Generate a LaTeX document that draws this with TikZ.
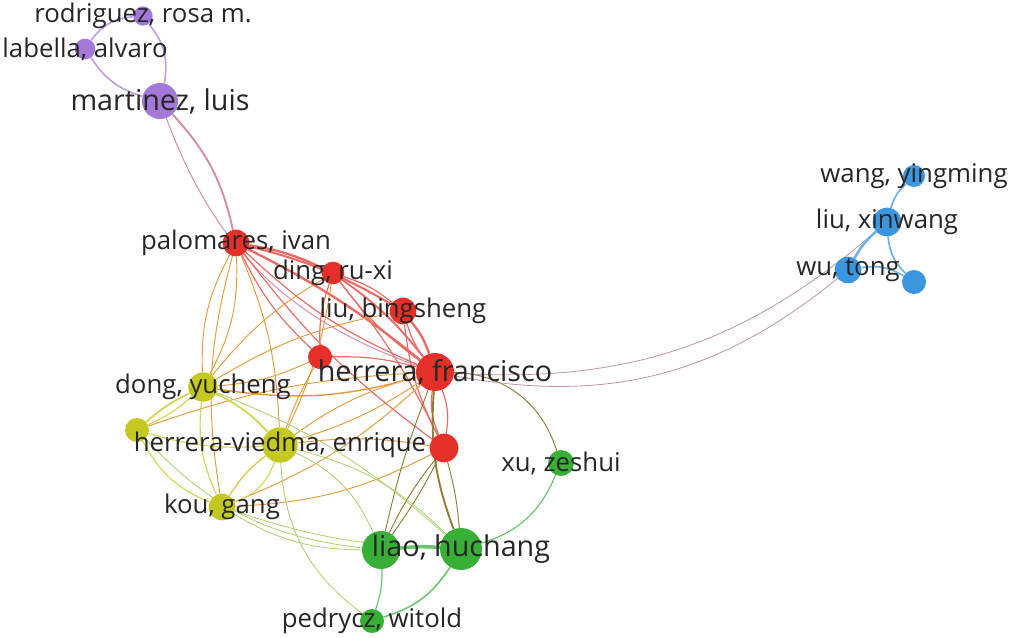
\documentclass[tikz,border=0pt]{standalone}
\usepackage{fontspec}
\setmainfont{Open Sans}
\usetikzlibrary{backgrounds}
\definecolor{vred}{RGB}{228,48,40}
\definecolor{vpur}{RGB}{164,120,214}
\definecolor{vyel}{RGB}{196,200,32}
\definecolor{vgrn}{RGB}{56,176,56}
\definecolor{vblu}{RGB}{60,150,222}
\begin{document}
\begin{tikzpicture}
  [x=0.03cm,y=-0.03cm,
   vn/.style={circle,inner sep=0pt},
   lbl/.style={font=\fontsize{22}{24}\selectfont,text=black!85},
   big/.style={font=\fontsize{24.5}{26}\selectfont,text=black!85},
   pe/.style={draw=vpur!70,line width=1.4pt},
   rp/.style={draw=vred!45!vpur!70,line width=0.8pt},
   re/.style={draw=vred!72,line width=1pt},
   ry/.style={draw=vred!40!vyel!70!orange!85,line width=0.8pt},
   rg/.style={draw=vred!40!vgrn!75!brown,line width=0.8pt},
   ye/.style={draw=vyel!75,line width=1pt},
   yg/.style={draw=vyel!55!vgrn!70,line width=0.7pt},
   ge/.style={draw=vgrn!75,line width=1pt},
   be/.style={draw=vblu!75,line width=1.4pt},
   rb/.style={draw=vred!55!vblu!65,line width=0.7pt}]
  \useasboundingbox (0,0) rectangle (1009,637);

  % purple
  \node[vn,fill=vpur,minimum size=0.58cm,label={[lbl]center:rodriguez, rosa m.}] (rodr) at (143,16) {};
  \node[vn,fill=vpur,minimum size=0.62cm,label={[lbl]center:labella, alvaro}] (labe) at (85,49) {};
  \node[vn,fill=vpur,minimum size=1.08cm,label={[big]center:martinez, luis}] (mart) at (160,101) {};

  % red
  \node[vn,fill=vred,minimum size=0.8cm,label={[lbl]center:palomares, ivan}] (palo) at (236,243) {};
  \node[vn,fill=vred,minimum size=0.68cm,label={[lbl]center:ding, ru-xi}] (ding) at (333,273) {};
  \node[vn,fill=vred,minimum size=0.8cm,label={[lbl]center:liu, bingsheng}] (libi) at (403,311) {};
  \node[vn,fill=vred,minimum size=0.72cm] (sred) at (320,357) {};
  \node[vn,fill=vred,minimum size=1.14cm,label={[big]center:herrera, francisco}] (herr) at (435,372) {};
  \node[vn,fill=vred,minimum size=0.86cm] (rbel) at (444,448) {};

  % yellow
  \node[vn,fill=vyel,minimum size=0.88cm,label={[lbl]center:dong, yucheng}] (dong) at (203,387) {};
  \node[vn,fill=vyel,minimum size=0.72cm] (ylef) at (137,430) {};
  \node[vn,fill=vyel,minimum size=1.06cm,label={[lbl]center:herrera-viedma, enrique}] (hevi) at (280,445) {};
  \node[vn,fill=vyel,minimum size=0.8cm,label={[lbl]center:kou, gang}] (kou) at (222,507) {};

  % green
  \node[vn,fill=vgrn,minimum size=1.14cm] (lia2) at (381,550) {};
  \node[vn,fill=vgrn,minimum size=1.26cm,label={[big]center:liao, huchang}] (liao) at (461,549) {};
  \node[vn,fill=vgrn,minimum size=0.78cm,label={[lbl]center:xu, zeshui}] (xu) at (561,463) {};
  \node[vn,fill=vgrn,minimum size=0.72cm,label={[lbl]center:pedrycz, witold}] (pedr) at (372,621) {};

  % blue
  \node[vn,fill=vblu,minimum size=0.66cm,label={[lbl]center:wang, yingming}] (wang) at (914,176) {};
  \node[vn,fill=vblu,minimum size=0.86cm,label={[lbl]center:liu, xinwang}] (lixi) at (887,222) {};
  \node[vn,fill=vblu,minimum size=0.8cm,label={[lbl]center:wu, tong}] (wuto) at (848,270) {};
  \node[vn,fill=vblu,minimum size=0.72cm] (bsml) at (914,282) {};

  \begin{scope}[on background layer]
  \draw[pe] (mart) to[bend right=25] (rodr);
  \draw[pe] (mart) to[bend left=20] (labe);
  \draw[pe] (labe) to[bend left=25] (rodr);
  \draw[rp,line width=1.6pt] (mart) to[bend left=15] (palo);
  \draw[rp] (mart) to[bend right=25] (herr);

  \draw[re,line width=2pt] (palo) to[bend left=8] (ding);
  \draw[re,line width=1.8pt] (palo) to[bend left=8] (libi);
  \draw[re,line width=2pt] (palo) to[bend left=6] (herr);
  \draw[re] (palo) to[bend right=10] (herr);
  \draw[re] (ding) to[bend left=10] (libi);
  \draw[re,line width=1.6pt] (ding) to[bend left=8] (herr);
  \draw[re] (ding) to[bend right=8] (herr);
  \draw[re,line width=2pt] (libi) to[bend left=10] (herr);
  \draw[re] (libi) to[bend right=10] (herr);
  \draw[re] (ding) to[bend right=10] (sred);
  \draw[re] (palo) to[bend right=10] (sred);
  \draw[re] (sred) to[bend left=8] (herr);
  \draw[re] (ding) to[bend left=6] (rbel);
  \draw[re] (palo) to[bend right=8] (rbel);
  \draw[re] (libi) to[bend right=10] (rbel);
  \draw[re] (herr) to[bend left=15] (rbel);
  \draw[re] (herr) to[bend right=15] (rbel);

  \draw[ry] (palo) to[bend right=15] (dong);
  \draw[ry] (palo) to[bend left=15] (dong);
  \draw[ry] (palo) to[bend left=10] (hevi);
  \draw[ry] (palo) to[bend right=12] (kou);
  \draw[ry] (ding) to[bend right=10] (dong);
  \draw[ry] (ding) to[bend left=8] (hevi);
  \draw[ry] (libi) to[bend right=10] (dong);
  \draw[ry] (sred) to[bend left=10] (dong);
  \draw[ry] (sred) to[bend right=5] (hevi);
  \draw[ry,line width=1.2pt] (herr) to[bend left=12] (dong);
  \draw[ry] (herr) to[bend left=8] (hevi);
  \draw[ry] (herr) to[bend right=10] (hevi);
  \draw[ry] (herr) to[bend left=10] (kou);
  \draw[ry] (herr) to[bend right=8] (ylef);
  \draw[ry] (rbel) to[bend left=12] (kou);
  \draw[ry] (rbel) to[bend right=8] (hevi);

  \draw[rg,line width=1.6pt] (herr) to[bend right=12] (liao);
  \draw[rg] (herr) to[bend left=35] (xu);
  \draw[rg] (herr) to[bend right=4] (lia2);
  \draw[rg] (rbel) to[bend left=4] (lia2);
  \draw[rg] (rbel) to[bend right=6] (lia2);
  \draw[rg] (rbel) to[bend left=5] (liao);

  \draw[ye,line width=1.6pt] (dong) to[bend right=8] (ylef);
  \draw[ye] (dong) to[bend left=8] (ylef);
  \draw[ye,line width=1.6pt] (dong) to[bend left=10] (hevi);
  \draw[ye] (dong) to[bend right=15] (kou);
  \draw[ye] (ylef) to[bend right=10] (hevi);
  \draw[ye] (ylef) to[bend right=20] (kou);
  \draw[ye,line width=1.3pt] (hevi) to[bend right=10] (kou);
  \draw[ye] (hevi) to[bend left=25] (kou);

  \draw[yg] (hevi) to[bend left=20] (lia2);
  \draw[yg] (hevi) to[bend left=15] (liao);
  \draw[yg] (kou) to[bend right=8] (liao);
  \draw[yg] (kou) to[bend right=15] (lia2);
  \draw[yg] (ylef) to[bend right=20] (lia2);
  \draw[yg] (hevi) to[bend right=25] (pedr);
  \draw[yg] (dong) to[bend left=10] (liao);

  \draw[ge,line width=3pt] (lia2) to[bend left=5] (liao);
  \draw[ge] (lia2) to[bend left=10] (pedr);
  \draw[ge,line width=1.3pt] (liao) to[bend left=20] (pedr);
  \draw[ge] (liao) to[bend right=25] (xu);

  \draw[rb] (herr) to[bend right=25] (wuto);
  \draw[rb] (herr) to[bend right=22] (lixi);
  \draw[be,line width=2.2pt] (wuto) to[bend left=10] (lixi);
  \draw[be] (lixi) to[bend left=15] (wang);
  \draw[be] (lixi) to[bend right=20] (bsml);
  \draw[be] (wuto) to[bend left=20] (bsml);
  \end{scope}
\end{tikzpicture}
\end{document}
